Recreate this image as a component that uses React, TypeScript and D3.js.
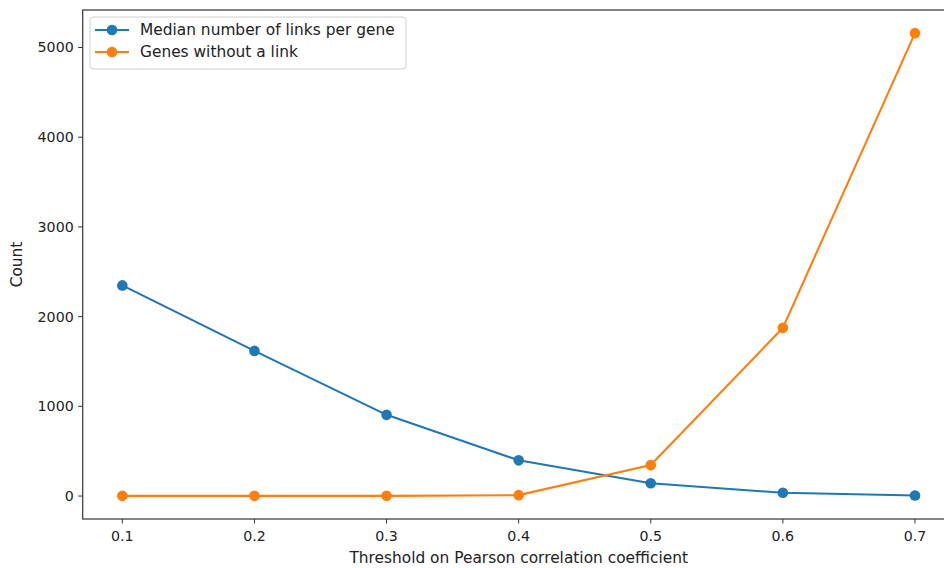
import { useEffect, useRef } from "react";
import * as d3 from "d3";

const thresholds = [0.1, 0.2, 0.3, 0.4, 0.5, 0.6, 0.7];
const medianLinks = [2348, 1618, 905, 398, 142, 36, 6];
const genesWithoutLink = [2, 2, 2, 10, 345, 1875, 5160];
const xTicks = [0.1, 0.2, 0.3, 0.4, 0.5, 0.6, 0.7];
const yTicks = [0, 1000, 2000, 3000, 4000, 5000];
const seriesNames = ["Median number of links per gene", "Genes without a link"];
const colors = ["#1f77b4", "#ff7f0e"];

export default function App() {
  const ref = useRef<SVGSVGElement>(null);

  useEffect(() => {
    const width = 944, height = 568;
    const left = 82.7, right = 954.6, top = 10, bottom = 519;
    const font = "DejaVu Sans, sans-serif";
    const tickSize = 14.2, labelSize = 15.4;
    const ink = "#222";

    const svg = d3.select(ref.current);
    svg.selectAll("*").remove();

    // matplotlib style 5% margins
    const xmin = d3.min(thresholds)!, xmax = d3.max(thresholds)!;
    const xpad = (xmax - xmin) * 0.05;
    const all = medianLinks.concat(genesWithoutLink);
    const ymin = d3.min(all)!, ymax = d3.max(all)!;
    const ypad = (ymax - ymin) * 0.05;

    const x = d3.scaleLinear().domain([xmin - xpad, xmax + xpad]).range([left, right]);
    const y = d3.scaleLinear().domain([ymin - ypad, ymax + ypad]).range([bottom, top]);

    const g = svg.append("g");

    // spines
    g.append("rect")
      .attr("x", left).attr("y", top)
      .attr("width", right - left).attr("height", bottom - top)
      .attr("fill", "none").attr("stroke", "#333").attr("stroke-width", 1.2);

    // x ticks
    xTicks.forEach(t => {
      g.append("line")
        .attr("x1", x(t)).attr("x2", x(t))
        .attr("y1", bottom).attr("y2", bottom + 4.5)
        .attr("stroke", "#333").attr("stroke-width", 1);
      g.append("text")
        .attr("x", x(t)).attr("y", bottom + 22)
        .attr("text-anchor", "middle")
        .attr("font-family", font).attr("font-size", tickSize)
        .attr("fill", ink)
        .text(d3.format(".1f")(t));
    });

    // y ticks
    yTicks.forEach(t => {
      g.append("line")
        .attr("x1", left - 4.5).attr("x2", left)
        .attr("y1", y(t)).attr("y2", y(t))
        .attr("stroke", "#333").attr("stroke-width", 1);
      g.append("text")
        .attr("x", left - 9).attr("y", y(t))
        .attr("dy", "0.35em")
        .attr("text-anchor", "end")
        .attr("font-family", font).attr("font-size", tickSize)
        .attr("fill", ink)
        .text(t);
    });

    g.append("text")
      .attr("x", (left + right) / 2).attr("y", 563)
      .attr("text-anchor", "middle")
      .attr("font-family", font).attr("font-size", labelSize)
      .attr("fill", ink)
      .text("Threshold on Pearson correlation coefficient");

    g.append("text")
      .attr("transform", `translate(22,${(top + bottom) / 2}) rotate(-90)`)
      .attr("text-anchor", "middle")
      .attr("font-family", font).attr("font-size", labelSize)
      .attr("fill", ink)
      .text("Count");

    const line = d3.line<number>()
      .x((d, i) => x(thresholds[i]))
      .y(d => y(d));

    [medianLinks, genesWithoutLink].forEach((data, k) => {
      g.append("path")
        .attr("d", line(data))
        .attr("fill", "none")
        .attr("stroke", colors[k])
        .attr("stroke-width", 2.1);
      g.selectAll(null)
        .data(data)
        .enter()
        .append("circle")
        .attr("cx", (d, i) => x(thresholds[i]))
        .attr("cy", d => y(d))
        .attr("r", 5.3)
        .attr("fill", colors[k]);
    });

    // legend
    const lg = g.append("g");
    lg.append("rect")
      .attr("x", 90).attr("y", 17)
      .attr("width", 316).attr("height", 52)
      .attr("rx", 3)
      .attr("fill", "#fff").attr("fill-opacity", 0.8)
      .attr("stroke", "#d0d0d0").attr("stroke-width", 1);
    seriesNames.forEach((name, k) => {
      const ly = 30 + k * 22;
      lg.append("line")
        .attr("x1", 95).attr("x2", 129)
        .attr("y1", ly).attr("y2", ly)
        .attr("stroke", colors[k]).attr("stroke-width", 2.1);
      lg.append("circle")
        .attr("cx", 112).attr("cy", ly).attr("r", 5.3)
        .attr("fill", colors[k]);
      lg.append("text")
        .attr("x", 140).attr("y", ly)
        .attr("dy", "0.35em")
        .attr("font-family", font).attr("font-size", labelSize)
        .attr("fill", ink)
        .text(name);
    });

    svg.attr("width", width).attr("height", height);
  }, []);

  return (
    <div style={{ position: "absolute", left: 0, top: 0, width: 944, height: 568, overflow: "hidden", background: "#fff" }}>
      <svg ref={ref} width={944} height={568}></svg>
    </div>
  );
}
